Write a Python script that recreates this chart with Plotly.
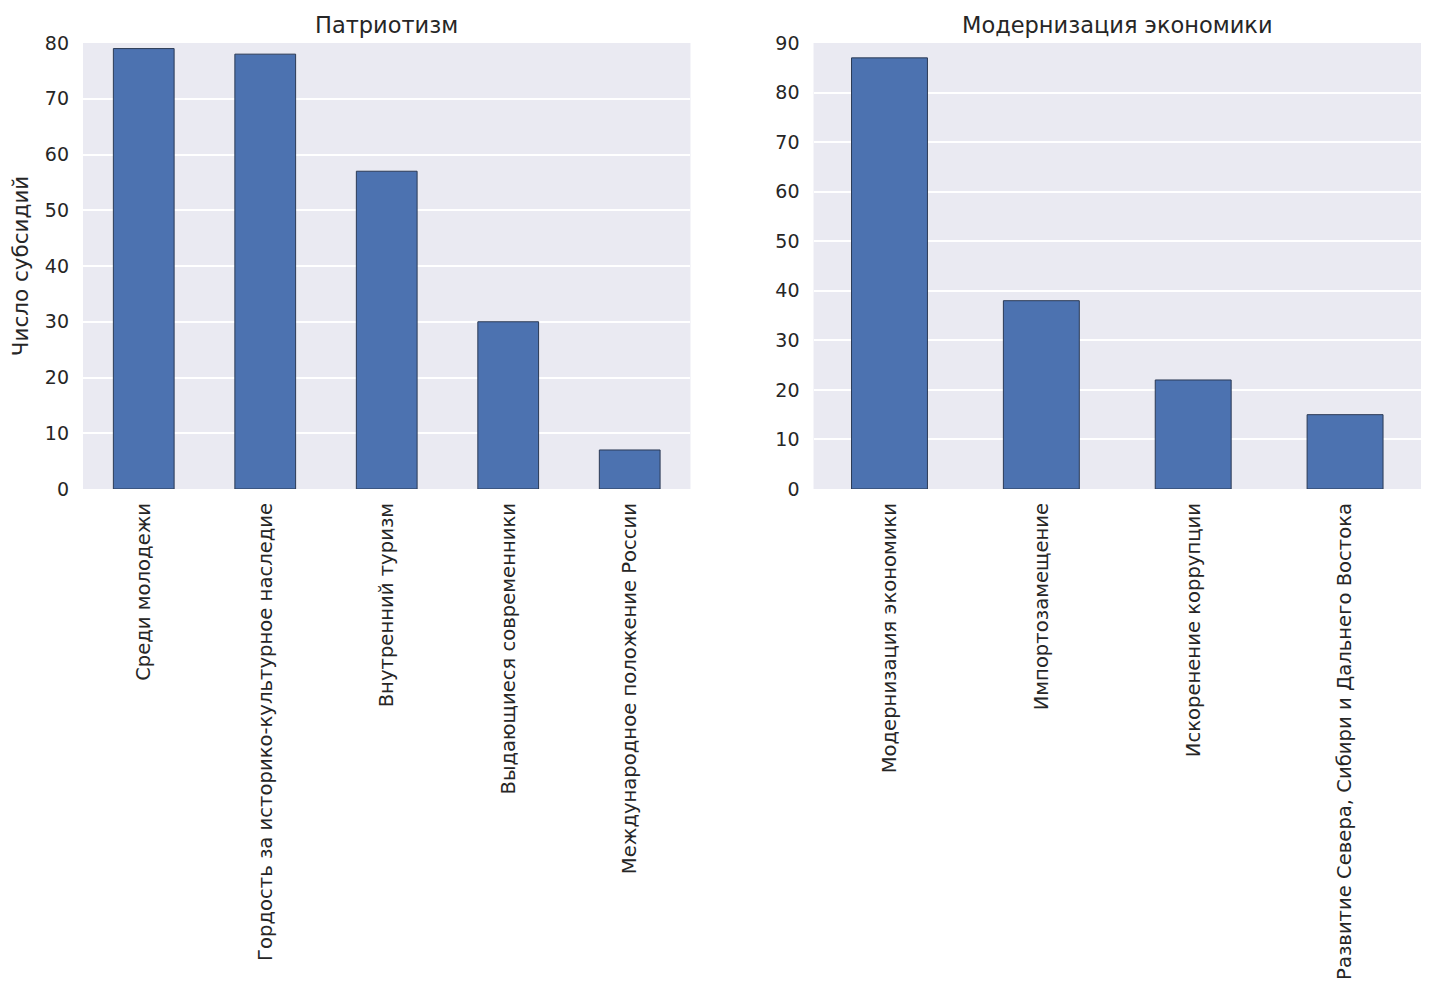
import plotly.graph_objects as go
from plotly.subplots import make_subplots

titles = ["Патриотизм", "Модернизация экономики"]

patriot_cats = ["Среди молодежи", "Гордость за историко-культурное наследие",
                "Внутренний туризм", "Выдающиеся современники",
                "Международное положение России"]
patriot_vals = [79, 78, 57, 30, 7]

econ_cats = ["Модернизация экономики", "Импортозамещение",
             "Искоренение коррупции", "Развитие Севера, Сибири и Дальнего Востока"]
econ_vals = [87, 38, 22, 15]

font = "DejaVu Sans"
ink = "#262626"

fig = make_subplots(rows=1, cols=2, subplot_titles=titles, horizontal_spacing=0.092)

bar_style = dict(marker_color="#4C72B0", marker_line_color="#2b3a55", marker_line_width=1,
                 width=0.5, showlegend=False)
fig.add_trace(go.Bar(x=patriot_cats, y=patriot_vals, **bar_style), row=1, col=1)
fig.add_trace(go.Bar(x=econ_cats, y=econ_vals, **bar_style), row=1, col=2)

fig.update_xaxes(tickangle=-90, showgrid=False, ticks="", zeroline=False,
                 ticklabelstandoff=9, automargin=False,
                 tickfont=dict(family=font, size=19.6, color=ink), showline=False)
fig.update_xaxes(range=[-0.5, 4.5], row=1, col=1)
fig.update_xaxes(range=[-0.5, 3.5], row=1, col=2)
fig.update_yaxes(gridcolor="white", gridwidth=2, zeroline=False, ticks="", dtick=10,
                 ticklabelstandoff=13, automargin=False,
                 tickfont=dict(family=font, size=19, color=ink))
fig.update_yaxes(range=[0, 80], row=1, col=1,
                 title=dict(text="Число субсидий", font=dict(family=font, size=21.5, color=ink),
                            standoff=12))
fig.update_yaxes(range=[0, 90], row=1, col=2)

for a in fig.layout.annotations:
    a.font = dict(family=font, size=22.5, color=ink)
    a.yshift = 3

fig.update_layout(
    width=1427, height=987,
    margin=dict(l=75, r=14, t=35, b=506),
    plot_bgcolor="#EAEAF2", paper_bgcolor="white",
    bargap=0.5,
    font=dict(family=font, color=ink),
)

fig.write_html("out.html")
